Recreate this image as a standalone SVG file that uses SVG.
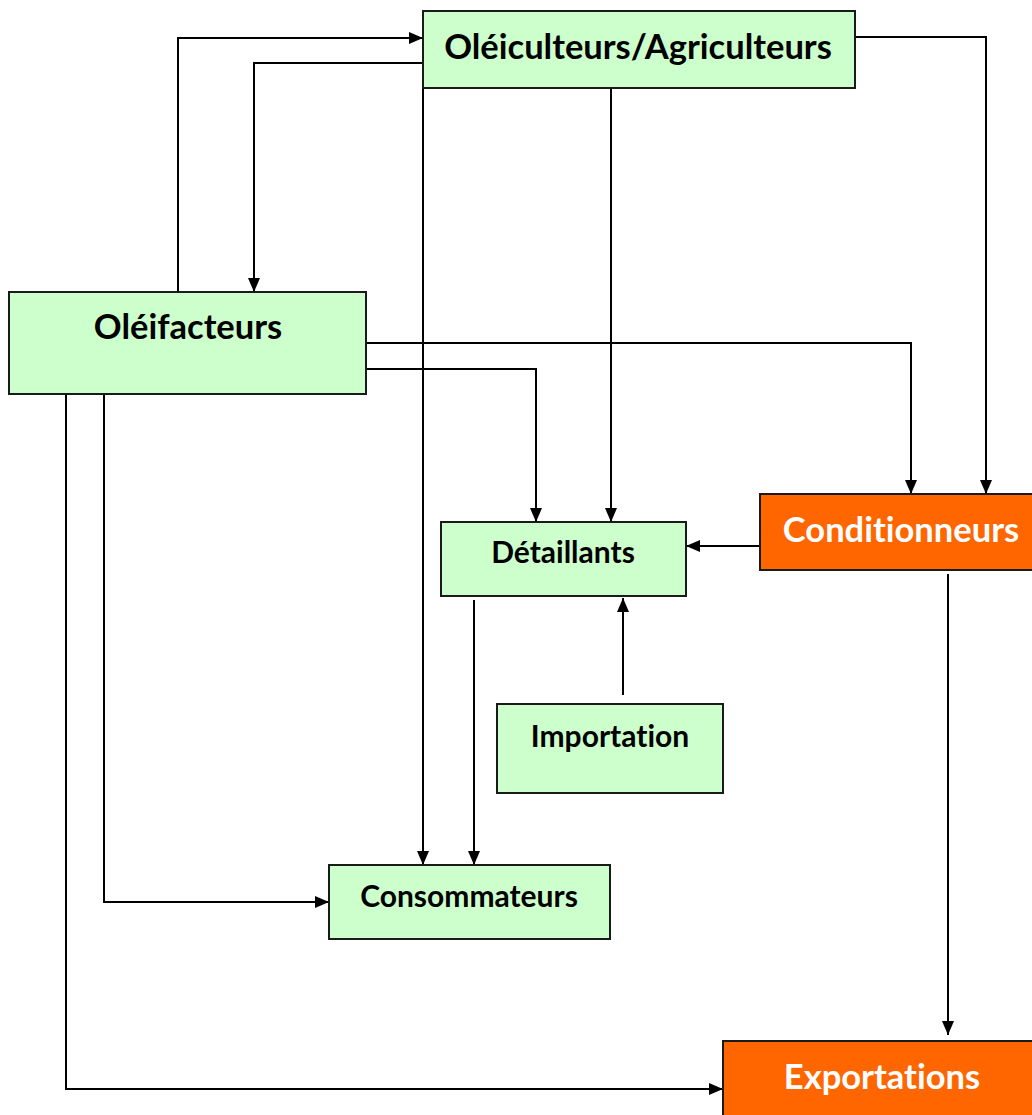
<svg xmlns="http://www.w3.org/2000/svg" width="1032" height="1115" viewBox="0 0 1032 1115">
  <style>
    .green { fill: #ccffcc; stroke: #1a1a1a; stroke-width: 2; }
    .orange { fill: #ff6600; stroke: #1a1a1a; stroke-width: 2; }
    .lbl { font-family: Lato, "Open Sans", "Liberation Sans", sans-serif; font-weight: bold; text-anchor: middle; fill: #000; font-variant-ligatures: none; font-feature-settings: "liga" 0, "dlig" 0; }
    .big { font-size: 34.5px; }
    .small { font-size: 30px; }
    .white { fill: #ffffff; }
    .wire { fill: none; stroke: #000; stroke-width: 2; }
  </style>
  <defs>
    <marker id="arrow" viewBox="0 0 14 12" refX="14" refY="6" markerWidth="14" markerHeight="12" markerUnits="userSpaceOnUse" orient="auto">
      <path d="M0,0 L14,6 L0,12 Z" fill="#000"/>
    </marker>
  </defs>

  <rect width="1032" height="1115" fill="#ffffff"/>

  <g id="connectors">
    <!-- Oléifacteurs -> Oléiculteurs -->
    <path class="wire" d="M178,292 V38 H423" marker-end="url(#arrow)"/>
    <!-- Oléiculteurs -> Oléifacteurs -->
    <path class="wire" d="M423,63 H254 V292" marker-end="url(#arrow)"/>
    <!-- Oléiculteurs -> Consommateurs -->
    <path class="wire" d="M423,88 V865" marker-end="url(#arrow)"/>
    <!-- Oléiculteurs -> Détaillants -->
    <path class="wire" d="M611,88 V522" marker-end="url(#arrow)"/>
    <!-- Oléiculteurs -> Conditionneurs -->
    <path class="wire" d="M855,37 H986 V494" marker-end="url(#arrow)"/>
    <!-- Oléifacteurs -> Conditionneurs -->
    <path class="wire" d="M366,343 H911 V494" marker-end="url(#arrow)"/>
    <!-- Oléifacteurs -> Détaillants -->
    <path class="wire" d="M366,369 H536 V522" marker-end="url(#arrow)"/>
    <!-- Conditionneurs -> Détaillants -->
    <path class="wire" d="M760,546 H686" marker-end="url(#arrow)"/>
    <!-- Importation -> Détaillants -->
    <path class="wire" d="M623,695 V598" marker-end="url(#arrow)"/>
    <!-- Détaillants -> Consommateurs -->
    <path class="wire" d="M474,600 V865" marker-end="url(#arrow)"/>
    <!-- Oléifacteurs -> Consommateurs -->
    <path class="wire" d="M104,394 V902 H329" marker-end="url(#arrow)"/>
    <!-- Oléifacteurs -> Exportations -->
    <path class="wire" d="M66,394 V1089 H723" marker-end="url(#arrow)"/>
    <!-- Conditionneurs -> Exportations -->
    <path class="wire" d="M948,574 V1035" marker-end="url(#arrow)"/>
  </g>

  <g id="oleiculteurs">
    <rect class="green" x="423" y="11" width="432" height="77"/>
    <text class="lbl big" x="638" y="59">Oléiculteurs/Agriculteurs</text>
  </g>
  <g id="oleifacteurs">
    <rect class="green" x="9" y="292" width="357" height="102"/>
    <text class="lbl big" x="188" y="339">Oléifacteurs</text>
  </g>
  <g id="detaillants">
    <rect class="green" x="441" y="522" width="245" height="74"/>
    <text class="lbl small" x="563" y="563">Détaillants</text>
  </g>
  <g id="conditionneurs">
    <rect class="orange" x="760" y="494" width="280" height="76"/>
    <text class="lbl big white" x="901" y="542">Conditionneurs</text>
  </g>
  <g id="importation">
    <rect class="green" x="497" y="704" width="226" height="89"/>
    <text class="lbl small" x="610" y="747">Importation</text>
  </g>
  <g id="consommateurs">
    <rect class="green" x="329" y="865" width="281" height="74"/>
    <text class="lbl small" x="469" y="907">Consommateurs</text>
  </g>
  <g id="exportations">
    <rect class="orange" x="723" y="1041" width="320" height="80"/>
    <text class="lbl big white" x="882" y="1089">Exportations</text>
  </g>
</svg>
